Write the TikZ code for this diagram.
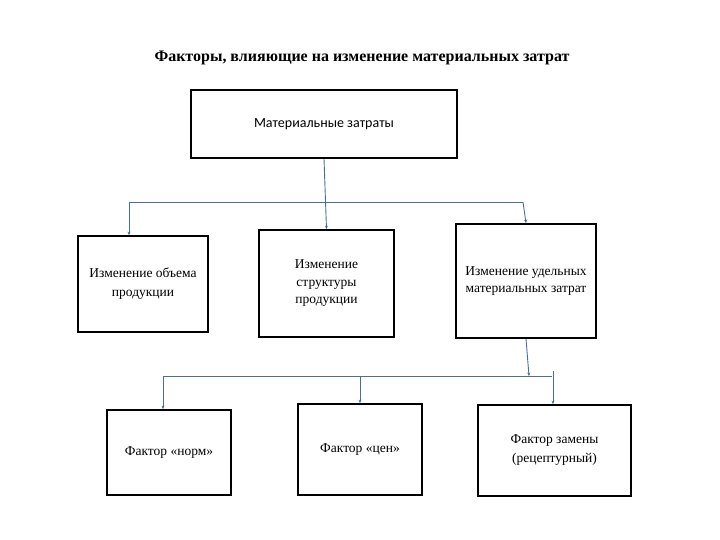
\documentclass[tikz,border=0pt]{standalone}
\usepackage{fontspec}
\setmainfont{Liberation Serif}
\newfontfamily\calib{Carlito}
\usetikzlibrary{arrows.meta}
\definecolor{conn}{RGB}{74,110,148}
\tikzset{
  box/.style={draw=black, line width=1.8pt, fill=white, inner sep=2pt, align=center, font=\fontsize{13.5}{17.5}\selectfont},
  link/.style={draw=conn, line width=0.9pt},
  arr/.style={link, -{Stealth[length=3.5pt,width=3pt]}}
}
\begin{document}
\begin{tikzpicture}[x=1pt,y=-1pt]
\useasboundingbox (0,0) rectangle (720,540);
\node[font=\bfseries\fontsize{16}{19}\selectfont] (title) at (362,58) {Факторы, влияющие на изменение материальных затрат};
\node[box, minimum width=266pt, minimum height=68pt, font=\calib\fontsize{14}{16}\selectfont] (top) at (324,124) {Материальные затраты};
\node[box, minimum width=130pt, minimum height=96pt, font=\fontsize{13.5}{19}\selectfont] (b1) at (143,284) {Изменение объема\\продукции};
\node[box, minimum width=135pt, minimum height=107pt] (b2) at (326.5,283.5) {Изменение\\структуры\\продукции};
\node[box, minimum width=140pt, minimum height=114pt] (b3) at (526,281) {Изменение удельных\\материальных затрат};
\node[box, minimum width=124pt, minimum height=85pt] (c1) at (169,452.5) {Фактор «норм»};
\node[box, minimum width=124pt, minimum height=91pt] (c2) at (360,449.5) {Фактор «цен»};
\node[box, minimum width=153pt, minimum height=91pt, font=\fontsize{13.5}{19}\selectfont] (c3) at (554.5,450.5) {Фактор замены\\(рецептурный)};
\coordinate (h1L) at (129,202);
\coordinate (h1R) at (523,202);
\coordinate (h2L) at (163,376);
\coordinate (h2R) at (552,376);
\coordinate (h2M) at (529,376);
\coordinate (h2C) at (360,376);
\coordinate (c3top) at (553,371);
\draw[arr] (top.south) -- (b2.north);
\draw[link] (h1L) -- (h1R);
\draw[arr] (h1L) -- (h1L |- b1.north);
\draw[arr] (h1R) -- (b3.north);
\draw[arr] (b3.south) -- (h2M);
\draw[link] (h2L) -- (h2R);
\draw[arr] (h2L) -- (h2L |- c1.north);
\draw[arr] (h2C) -- (c2.north);
\draw[arr] (c3top) -- (c3top |- c3.north);
\end{tikzpicture}
\end{document}
